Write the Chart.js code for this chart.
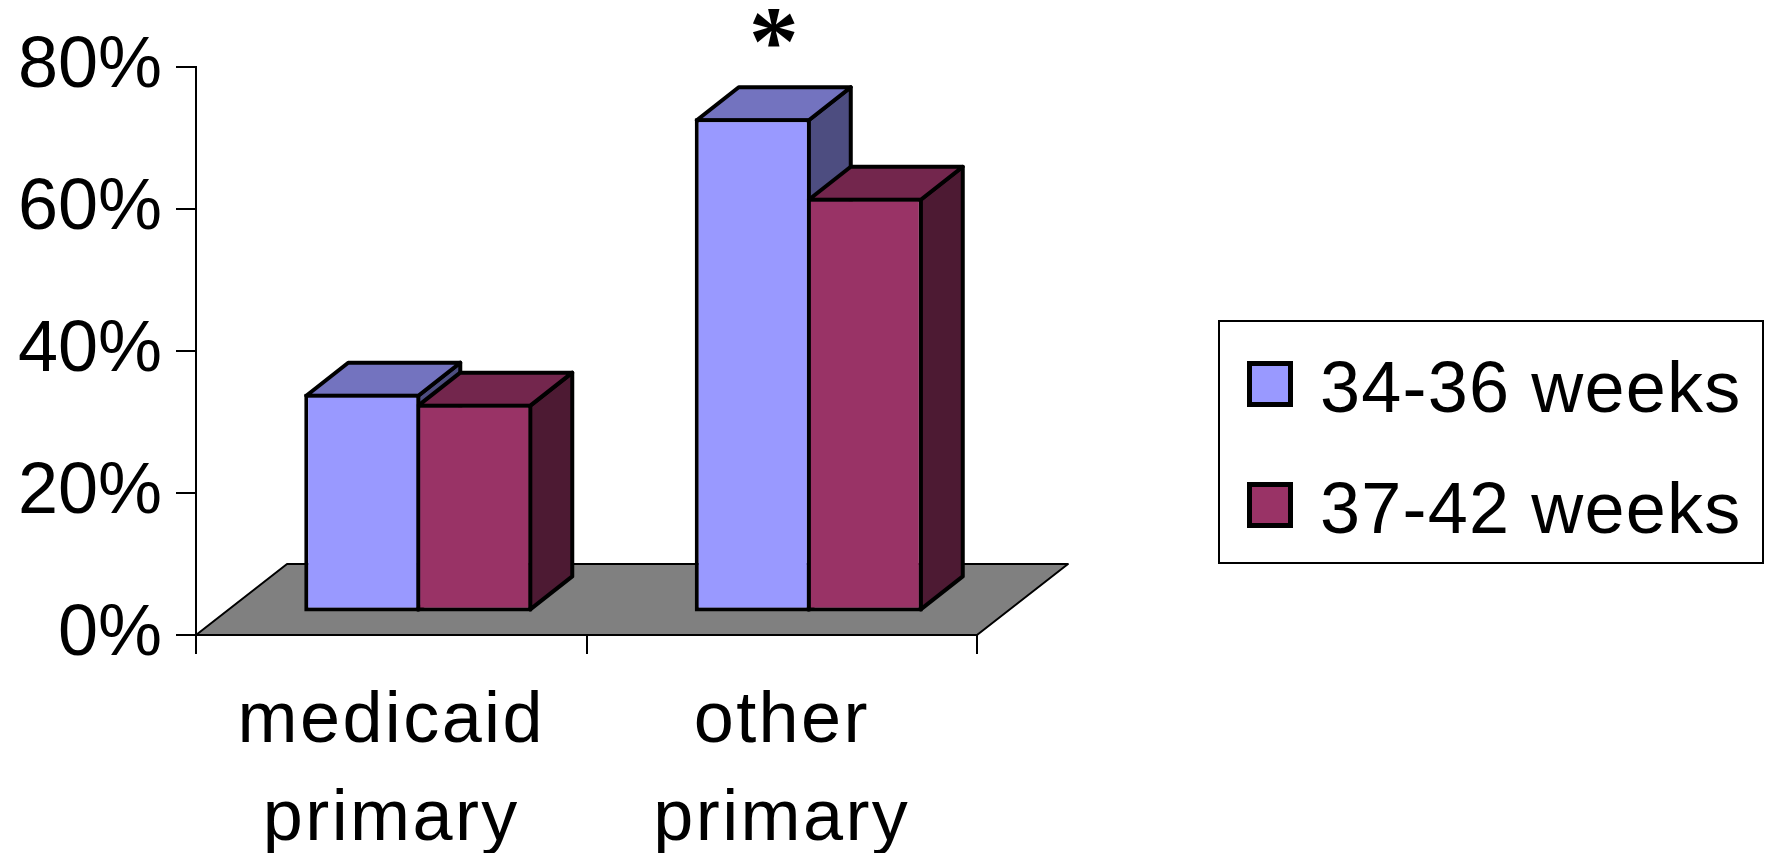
<!DOCTYPE html>
<html>
<head>
<meta charset="utf-8">
<script src="https://cdn.jsdelivr.net/npm/chart.js@4.4.0/dist/chart.umd.min.js"></script>
<style>
  html, body { margin: 0; padding: 0; background: #fff; }
  canvas { display: block; }
</style>
</head>
<body>
<canvas id="myChart" width="1769" height="853"></canvas>
<script>
// --- DATA ---
const categories = [['medicaid', 'primary'], ['other', 'primary']];
const seriesLabels = ['34-36 weeks', '37-42 weeks'];
const weeks34to36 = [30.8, 69.6];
const weeks37to42 = [29.4, 58.4];
const yTicks = [0, 20, 40, 60, 80];
const starMarks = ['', '*']; // significance mark over the 34-36 bars

// --- 3D LOOK ---
const FONT = '"Liberation Sans", Arial, sans-serif';
const faceColors = [
    { front: '#9999ff', top: '#7373bf', side: '#4d4d80' },
    { front: '#993366', top: '#73264d', side: '#4d1a33' }
];
const floorDepth = { x: 91, y: -71 };
const barShift = { x: 27, y: -22.6 };  // bars stand a bit back on the floor
const barDepth = { x: 42, y: -33 };

function barBox(bar) {
    const p = bar.getProps(['x', 'y', 'base', 'width'], true);
    // inset by half the border so my outlines line up with Chart.js ones
    return {
        l: p.x - p.width / 2 + barShift.x + 2,
        r: p.x + p.width / 2 + barShift.x - 2,
        t: p.y + barShift.y + 2,
        b: p.base + barShift.y - 2
    };
}

function poly(ctx, pts, fill) {
    ctx.beginPath();
    ctx.moveTo(pts[0][0], pts[0][1]);
    for (let k = 1; k < pts.length; k++) ctx.lineTo(pts[k][0], pts[k][1]);
    ctx.closePath();
    ctx.fillStyle = fill;
    ctx.fill();
    ctx.stroke();
}

const fake3d = {
    id: 'fake3d',
    afterLayout(chart) {
        // the category labels are a little letter-spaced in the original
        const sx = chart.scales.x;
        if (sx._spaced) return;
        const orig = sx.drawLabels;
        sx.drawLabels = function (area) {
            this.ctx.save();
            this.ctx.letterSpacing = '2.4px';
            orig.call(this, area);
            this.ctx.restore();
        };
        sx._spaced = true;
    },
    beforeDatasetsDraw(chart) {
        const { ctx, chartArea: a } = chart;
        ctx.save();
        ctx.strokeStyle = '#000';
        ctx.lineJoin = 'round';

        // grey floor
        ctx.lineWidth = 2;
        poly(ctx, [
            [a.left, a.bottom], [a.right, a.bottom],
            [a.right + floorDepth.x, a.bottom + floorDepth.y],
            [a.left + floorDepth.x, a.bottom + floorDepth.y]
        ], '#808080');

        // top + side faces
        ctx.lineWidth = 4;
        chart.data.datasets.forEach((ds, i) => {
            chart.getDatasetMeta(i).data.forEach(bar => {
                const { l, r, t, b } = barBox(bar);
                poly(ctx, [[r, t], [r + barDepth.x, t + barDepth.y],
                    [r + barDepth.x, b + barDepth.y], [r, b]], faceColors[i].side);
                poly(ctx, [[l, t], [r, t], [r + barDepth.x, t + barDepth.y],
                    [l + barDepth.x, t + barDepth.y]], faceColors[i].top);
            });
        });
        ctx.restore();

        // front faces drawn by Chart.js, pushed back onto the floor
        ctx.save();
        ctx.translate(barShift.x, barShift.y);
    },
    afterDatasetsDraw(chart) {
        const ctx = chart.ctx;
        ctx.restore();

        // asterisk
        ctx.save();
        ctx.fillStyle = '#000';
        ctx.font = 'bold 100px "Liberation Serif", "Times New Roman", serif';
        ctx.textAlign = 'center';
        ctx.textBaseline = 'alphabetic';
        chart.getDatasetMeta(0).data.forEach((bar, j) => {
            if (!starMarks[j]) return;
            const { l, r, t } = barBox(bar);
            ctx.fillText(starMarks[j], (l + r) / 2 + barDepth.x / 2, t + barDepth.y - 13);
        });
        ctx.restore();
    },
    afterDraw(chart) {
        // legend in a framed box
        const ctx = chart.ctx;
        ctx.save();
        ctx.strokeStyle = '#000';
        ctx.lineWidth = 2;
        ctx.strokeRect(1219, 321, 544, 242);
        ctx.font = '72px ' + FONT;
        ctx.letterSpacing = '1.2px';
        ctx.textBaseline = 'alphabetic';
        ctx.textAlign = 'left';
        seriesLabels.forEach((lab, i) => {
            const yTop = 361 + i * 121;
            ctx.fillStyle = faceColors[i].front;
            ctx.fillRect(1249, yTop + 2, 42, 42);
            ctx.lineWidth = 5;
            ctx.strokeRect(1249.5, yTop + 2.5, 41, 41);
            ctx.fillStyle = '#000';
            ctx.fillText(lab, 1320, yTop + 51);
        });
        ctx.restore();
    }
};

// --- CHART ---
const ctx = document.getElementById('myChart').getContext('2d');
const myChart = new Chart(ctx, {
    type: 'bar',
    data: {
        labels: categories,
        datasets: [{
            label: seriesLabels[0],
            data: weeks34to36,
            backgroundColor: faceColors[0].front,
            borderColor: '#000',
            borderWidth: 4,
            borderSkipped: false
        }, {
            label: seriesLabels[1],
            data: weeks37to42,
            backgroundColor: faceColors[1].front,
            borderColor: '#000',
            borderWidth: 4,
            borderSkipped: false
        }]
    },
    options: {
        responsive: false,
        animation: false,
        devicePixelRatio: 1,
        layout: { padding: { top: 67, right: 792, left: 0, bottom: 0 } },
        // bars overlap by one border width so the shared edge is a single line
        datasets: { bar: { categoryPercentage: 0.5736, barPercentage: 1.036 } },
        scales: {
            x: {
                grid: { offset: true, drawOnChartArea: false, tickLength: 19, color: '#000', lineWidth: 2 },
                border: { color: '#000', width: 2 },
                ticks: {
                    color: '#000', padding: 20, maxRotation: 0,
                    font: { family: FONT, size: 72, lineHeight: 1.35 }
                },
                afterFit: s => { s.height = 218; }
            },
            y: {
                min: 0, max: 80,
                grid: { drawOnChartArea: false, tickLength: 20, color: '#000', lineWidth: 2 },
                border: { color: '#000', width: 2 },
                ticks: {
                    color: '#000', padding: 14,
                    font: { family: FONT, size: 72 },
                    callback: v => v + '%'
                },
                afterBuildTicks: s => { s.ticks = yTicks.map(v => ({ value: v })); },
                afterFit: s => { s.width = 196; }
            }
        },
        plugins: {
            legend: { display: false },
            tooltip: { enabled: false }
        }
    },
    plugins: [fake3d]
});
</script>
</body>
</html>
